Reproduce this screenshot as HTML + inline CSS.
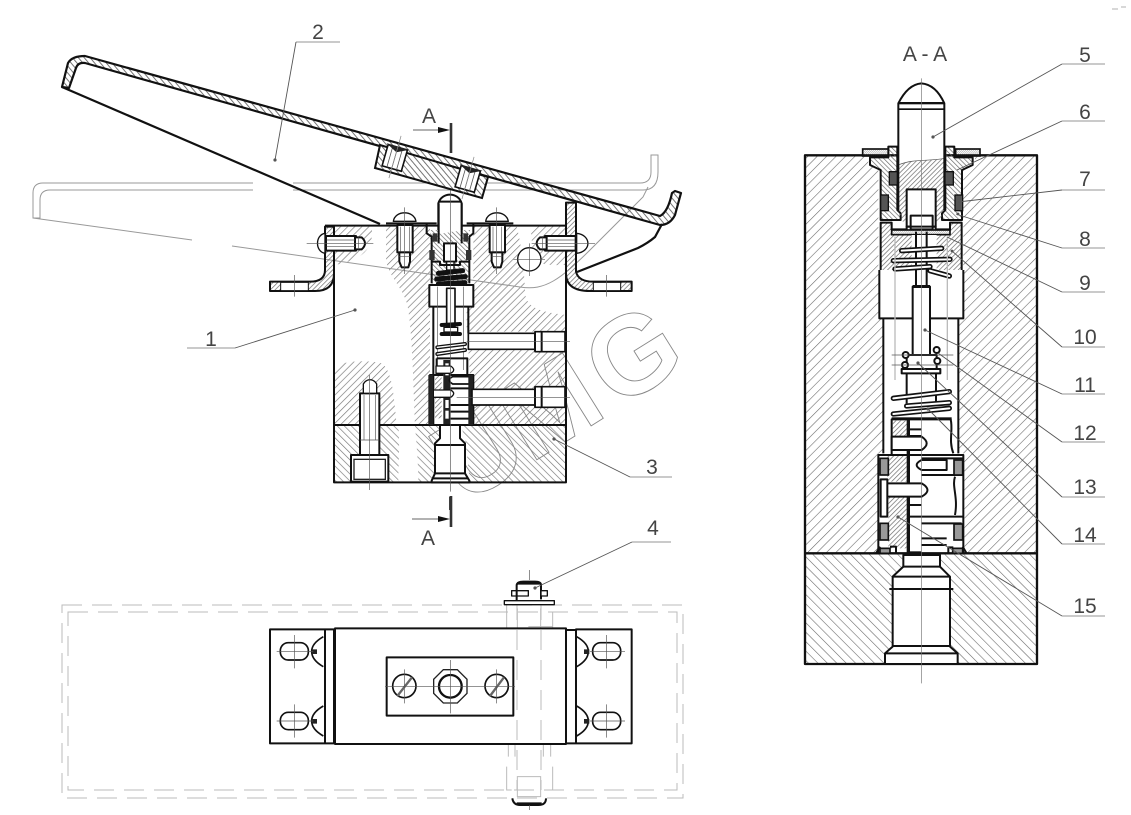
<!DOCTYPE html>
<html><head><meta charset="utf-8"><style>
html,body{margin:0;padding:0;background:#fff;width:1131px;height:815px;overflow:hidden}
svg{display:block}
text{font-family:"Liberation Sans",sans-serif;fill:#444;text-anchor:middle}
.k{fill:none;stroke:#111;stroke-width:6;stroke-linejoin:round}
.w{fill:#fff;stroke:#111;stroke-width:6;stroke-linejoin:round}
.m{fill:none;stroke:#222;stroke-width:4}
.c{fill:none;stroke:#555;stroke-width:2}
.g{fill:none;stroke:#aaa;stroke-width:1}
.l{fill:none;stroke:#555;stroke-width:.9}
.u{fill:none;stroke:#aaa;stroke-width:1.2}
.d{fill:#555}
.a{fill:url(#h1)}.b{fill:url(#h2)}.e{fill:url(#h3)}.f{fill:url(#h4)}.n{fill:url(#h5)}
</style></head><body>
<svg width="1131" height="815" viewBox="0 0 1131 815" xmlns="http://www.w3.org/2000/svg">
<defs>
<pattern id="h1" width="15" height="15" patternUnits="userSpaceOnUse" patternTransform="rotate(45)"><rect width="2" height="15" fill="#777"/></pattern>
<pattern id="h2" width="15" height="15" patternUnits="userSpaceOnUse" patternTransform="rotate(-45)"><rect width="2" height="15" fill="#777"/></pattern>
<pattern id="h3" width="4.5" height="4.5" patternUnits="userSpaceOnUse" patternTransform="rotate(-40)"><rect width=".9" height="4.5" fill="#666"/></pattern>
<pattern id="h4" width="20" height="20" patternUnits="userSpaceOnUse" patternTransform="rotate(45)"><rect width="1.7" height="20" fill="#666"/></pattern>
<pattern id="h5" width="20" height="20" patternUnits="userSpaceOnUse" patternTransform="rotate(-45)"><rect width="1.7" height="20" fill="#666"/></pattern>
<pattern id="h6" width="10" height="10" patternUnits="userSpaceOnUse" patternTransform="rotate(-45)"><rect width="2" height="10" fill="#666"/></pattern>
<pattern id="h7" width="10" height="10" patternUnits="userSpaceOnUse" patternTransform="rotate(45)"><rect width="2" height="10" fill="#666"/></pattern>
</defs>
<rect width="1131" height="815" fill="#fff"/>

<!-- LEFT VIEW hatch -->
<g transform="translate(260,130) scale(.33333)">
<path class="a" d="M225,290H335C342,345 320,388 225,405Z"/>
<path class="a" d="M378,290H510V885H465C460,800 460,650 445,540C435,470 378,440 378,380Z"/>
<path class="a" d="M630,290H770C780,330 790,380 795,480C795,530 830,545 918,555V605H620V530H640V300Z"/>
<path class="a" d="M625,660H918V775H632Z"/>
<path class="a" d="M640,825H918V885H640Z"/>
<path class="a" d="M812,295C830,285 870,288 918,290V405C880,405 835,410 820,380Z"/>
<path class="a" d="M225,715C240,690 330,690 365,700C395,720 400,780 410,885H225Z"/>
<path class="b" d="M225,885H415C420,950 415,1000 415,1057H225Z"/>
<path class="b" d="M465,885H540V915L520,1057H475C475,1000 470,950 465,885Z"/>
<path class="b" d="M600,885H918V1057H630L615,920Z"/>
</g>

<!-- watermark -->
<g fill="none" style="font-weight:bold">
<text transform="translate(653,387) rotate(-32)" font-size="112" style="fill:none;stroke:#888;stroke-width:.9;font-weight:bold">G</text>
<text transform="translate(570,439) rotate(-32)" font-size="112" style="fill:none;stroke:#888;stroke-width:.9;font-weight:bold">M</text>
<text transform="translate(498,484) rotate(-32)" font-size="112" style="fill:none;stroke:#888;stroke-width:.9;font-weight:bold">U</text>
</g>

<!-- ghost pedal -->
<g fill="none" stroke="#999" stroke-width="1">
<path d="M253,183H43Q33,183 33,193V218H40V200Q40,190 50,190H253"/>
<path d="M293,183H640Q651,183 651,172V155H658V172Q658,190 643,190H293"/>
<path d="M33,218L192,240M232,246L520,287C545,291 560,280 593,247L643,197L648,187"/>
</g>

<!-- LEFT VIEW lines -->
<g transform="translate(260,130) scale(.33333)">
<!-- brackets -->
<path style="fill:url(#h7)" d="M30,455H150Q195,455 195,420V290H222V430Q222,483 165,483H30Z"/>
<path class="k" d="M30,455H150Q195,455 195,420V290H222V430Q222,483 165,483H30Z"/>
<rect class="w" x="62" y="457" width="83" height="25" style="stroke-width:3"/>
<path style="fill:url(#h7)" d="M918,218H948V425Q955,455 1000,455H1115V483H990Q918,483 918,430Z"/>
<path class="k" d="M918,218H948V425Q955,455 1000,455H1115V483H990Q918,483 918,430Z"/>
<rect class="w" x="1000" y="457" width="82" height="25" style="stroke-width:3"/>
<!-- body -->
<path class="k" d="M222,290V1057H918V290M195,287H918M222,885H918"/>
<path class="k" d="M378,280H530M620,280H760"/>
<!-- side screws -->
<path class="w" d="M195,310C165,315 165,365 195,370Z" style="stroke-width:4"/>
<rect class="w" x="198" y="318" width="90" height="44"/>
<path class="w" d="M285,322H305Q325,340 305,358H285Z"/>
<path class="c" d="M200,330H285M200,350H285M295,322V358M140,340H340"/>
<path class="w" d="M950,310C995,315 995,365 950,370Z" style="stroke-width:4"/>
<rect class="w" x="855" y="318" width="92" height="44"/>
<path class="w" d="M860,322H840Q820,340 840,358H860Z"/>
<path class="c" d="M860,330H945M860,350H945M848,322V358M815,340H1005"/>
<!-- vertical screws -->
<g><path class="w" d="M400,274C405,240 462,240 468,274Z" style="stroke-width:4"/>
<rect class="w" x="412" y="285" width="46" height="82"/>
<path class="w" d="M418,367H450V395L445,412H425L418,395Z"/>
<path class="c" d="M422,290V365M448,290V365M418,380H450M433,232V432"/></g>
<g transform="translate(277,0)"><path class="w" d="M400,274C405,240 462,240 468,274Z" style="stroke-width:4"/>
<rect class="w" x="412" y="285" width="46" height="82"/>
<path class="w" d="M418,367H450V395L445,412H425L418,395Z"/>
<path class="c" d="M422,290V365M448,290V365M418,380H450M433,232V432"/></g>
<!-- hole -->
<circle class="w" cx="808" cy="388" r="35" style="stroke-width:4"/><path class="c" d="M808,340V438M760,388H855"/>
<!-- centre housing -->
<path style="fill:url(#h6)" d="M510,300H630V460H515Z"/>
<path class="k" d="M500,282V310L515,320V460M640,282V310L628,320V460"/>
<path class="w" d="M535,300V220C545,185 595,185 605,220V300"/>
<path style="fill:#fff" d="M538,220H602V305C580,300 560,312 538,310Z"/>
<path class="k" d="M537,215H604M536,220V340M605,220V340"/>
<rect class="w" x="552" y="340" width="36" height="55"/>
<rect class="w" x="560" y="395" width="22" height="25" style="stroke-width:4"/>
<rect x="508" y="360" width="16" height="30" fill="#333"/><rect x="618" y="360" width="16" height="30" fill="#333"/>
<rect x="518" y="310" width="14" height="25" fill="#333"/><rect x="610" y="310" width="14" height="25" fill="#333"/>
<path class="k" d="M515,395H540V405H600V395H630"/>
<!-- upper dark spring -->
<g stroke="#111" stroke-width="15" stroke-linecap="round" fill="none"><path d="M535,430L608,422M530,447L616,440M535,462L615,458"/></g>
<path class="w" d="M508,465H640V530H508Z"/>
<path class="k" d="M520,530V885M625,530V610"/>
<path class="w" d="M560,475H585V590H560Z" style="stroke-width:5"/>
<path class="c" d="M532,470V720M610,470V720" stroke="#999"/>
<!-- lower dark spring -->
<g stroke="#111" stroke-width="12" stroke-linecap="round" fill="none"><path d="M545,585L600,582M545,612L600,612"/></g>
<path d="M552,592H593V606H552Z" fill="#fff" stroke="#111" stroke-width="4"/>
<!-- coil -->
<g stroke="#111" stroke-width="12" stroke-linecap="round" fill="none"><path d="M532,652L615,642M532,672L615,660"/></g>
<g stroke="#fff" stroke-width="4" stroke-linecap="round" fill="none"><path d="M532,652L615,642M532,672L615,660"/></g>
<path class="k" d="M530,685H622V735M530,685V735"/>
<!-- lower mech -->
<path style="fill:url(#h7)" d="M525,735H545V865H525Z"/>
<path class="k" d="M510,885V735H550M640,885V735H570M510,885H640"/>
<path fill="#222" d="M550,690H570V885H550Z"/>
<g fill="#fff"><rect x="556" y="700" width="10" height="14"/><rect x="556" y="722" width="10" height="14"/><rect x="556" y="780" width="10" height="14"/><rect x="556" y="810" width="10" height="24"/><rect x="556" y="842" width="10" height="24"/></g>
<path class="w" d="M528,708H572Q590,720 572,730H528Z" style="stroke-width:4"/>
<path class="w" d="M520,780H572Q590,790 572,802H520Z" style="stroke-width:4"/>
<path class="w" d="M632,740H578Q558,750 578,762H632Z" style="stroke-width:5"/>
<path class="k" d="M570,825H636M570,845H636M570,866H636M570,775H636"/>
<path fill="#222" d="M505,735h14v150h-14zM625,735h14v150h-14z"/>
<!-- cross holes -->
<path class="w" d="M915,605H825V610H625V658H825V665H915Z" style="stroke-width:5"/>
<path class="k" d="M825,607V663M845,607V663"/><path class="c" d="M620,635H930"/>
<path class="w" d="M915,770H825V778H636V825H825V832H915Z" style="stroke-width:5"/>
<path class="k" d="M825,772V830M845,772V830"/><path class="c" d="M590,802H930"/>
<!-- bottom-left bolt -->
<rect class="w" x="300" y="790" width="58" height="185"/>
<path class="w" d="M310,790V762C320,745 340,745 350,762V790Z" style="stroke-width:4"/>
<path class="c" d="M312,795V930M346,795V930M300,930H358"/>
<rect class="w" x="273" y="975" width="112" height="80"/><rect class="m" x="282" y="988" width="94" height="60"/>
<path class="c" d="M328,735V1080"/>
<!-- bottom fitting -->
<path class="w" d="M540,885V925L525,940V1030L515,1052V1057H628V1052L615,1030V940L600,925V885Z"/>
<path class="k" d="M525,945H615M525,1030H615M518,1045H625"/>
<path class="c" d="M571,140V1085"/>
<rect x="567" y="1100" width="8" height="40" fill="#444"/>
<path class="c" d="M103,435V500M1040,435V500"/>
</g>

<!-- PEDAL -->
<path d="M62,87L68,63Q72,56 85,56L660,216Q668,212 672,193L675,191L681,193L675,215Q670,225 660,225L85,63Q78,62 76,68L69,88Z" fill="url(#h3)" stroke="#111" stroke-width="2.2" stroke-linejoin="round"/>
<path d="M62,87L380,224" stroke="#111" stroke-width="2.2" fill="none"/>
<path d="M662,224L655,237Q648,243 638,248L577,272" stroke="#111" stroke-width="2.2" fill="none"/>
<path d="M380,145L375,168L482,198L488,177Z" fill="#fff"/>
<path d="M380,145L375,168L482,198L488,177Z" fill="url(#h3)" stroke="#111" stroke-width="2"/>
<g transform="translate(395,157) rotate(16)"><rect x="-10" y="-10" width="20" height="22" fill="#fff" stroke="#111" stroke-width="1.6"/><path d="M-5,-10V12M0,-10V12M5,-10V12" stroke="#555" stroke-width=".8"/><path d="M-12,-11L0,-5L12,-11Z" fill="#222"/><path d="M0,-22V22" stroke="#888" stroke-width=".7"/></g>
<g transform="translate(468,178) rotate(16)"><rect x="-10" y="-10" width="20" height="22" fill="#fff" stroke="#111" stroke-width="1.6"/><path d="M-5,-10V12M0,-10V12M5,-10V12" stroke="#555" stroke-width=".8"/><path d="M-12,-11L0,-5L12,-11Z" fill="#222"/><path d="M0,-22V22" stroke="#888" stroke-width=".7"/></g>

<!-- section marks -->
<path d="M451,123V153M451,496V527" stroke="#333" stroke-width="2.6" fill="none"/>
<path d="M413,130H440M412,519H440" stroke="#666" stroke-width="1" fill="none"/>
<path d="M438,127L450,130L438,133ZM438,516L450,519L438,522Z" fill="#111"/>
<text x="429" y="123" font-size="21">A</text><text x="428" y="545" font-size="21">A</text>

<!-- BOTTOM VIEW -->
<g fill="none" stroke="#bbb" stroke-width="1" stroke-dasharray="20 10">
<rect x="62" y="605" width="621" height="193"/><rect x="68" y="612" width="609" height="178"/>
<path d="M517,600V790M541,600V790"/>
</g>
<g transform="translate(260,570) scale(.33333)">
<path d="M740,105V175M878,127V175M805,170H878M772,115V175M842,115V175M740,590V660H755M878,590V660H860M772,620H842V680H772ZM745,525V560M765,525V560M850,525V560M872,525V560" fill="none" stroke="#bbb" stroke-width="3"/>
<path class="k" d="M30,178H195V520H30ZM195,178H222V520H195ZM225,175H918V522H225ZM918,180H948V520H918ZM948,178H1115V520H948Z"/>
<rect class="k" x="380" y="262" width="380" height="175"/>
<rect class="k" x="61" y="218" width="84" height="52" rx="24" style="stroke-width:5"/><rect class="k" x="61" y="427" width="84" height="52" rx="24" style="stroke-width:5"/>
<rect class="k" x="998" y="218" width="84" height="52" rx="24" style="stroke-width:5"/><rect class="k" x="998" y="427" width="84" height="52" rx="24" style="stroke-width:5"/>
<path class="k" style="stroke-width:5" d="M190,200Q155,220 155,244Q155,270 190,290M190,408Q155,428 155,453Q155,478 190,498M950,200Q985,220 985,244Q985,270 950,290M950,408Q985,428 985,453Q985,478 950,498"/>
<path d="M155,238h16v14h-16zM155,447h16v14h-16zM972,238h16v14h-16zM972,447h16v14h-16z" fill="#222"/>
<path class="c" d="M50,244H160M103,195V295M50,453H160M103,403V503M990,244H1095M1040,195V295M990,453H1095M1040,403V503"/>
<circle class="k" cx="433" cy="348" r="35" style="stroke-width:5"/><circle class="k" cx="710" cy="348" r="35" style="stroke-width:5"/>
<path d="M412,378L456,322M690,378L732,322" stroke="#666" stroke-width="7"/>
<path class="m" d="M550,299H592L621,328V370L592,399H550L521,370V328Z"/>
<circle cx="571" cy="349" r="34" fill="none" stroke="#111" stroke-width="7"/>
<path class="c" d="M571,270V430M375,349H765M433,298V400M710,298V400"/>
<path class="k" d="M770,60V45Q772,35 790,35H825Q843,35 843,45V88"/><path d="M772,36H842V44H772Z" fill="#111"/>
<rect class="w" x="733" y="92" width="150" height="12" style="stroke-width:4"/>
<rect class="w" x="755" y="62" width="50" height="16" style="stroke-width:4"/><rect class="w" x="843" y="62" width="19" height="16" style="stroke-width:4"/>
<path class="k" d="M770,60V90"/>
<path class="k" d="M757,685Q760,705 780,705H835Q858,705 858,685"/><path d="M770,697H845V705H770Z" fill="#111"/>
<path class="c" d="M808,0V30M808,705V720" stroke="#888"/>
</g>

<!-- RIGHT VIEW -->
<g transform="translate(790,70) scale(.33333)">
<rect class="f" x="45" y="258" width="696" height="1192"/>
<rect class="n" x="45" y="1452" width="696" height="330"/>
<path d="M235,258V285L265,300V600H268V745H280V1150H265V1450H523V1150H505V745H520V600H520V300L555,285V258Z" fill="#fff"/>
<path class="k" d="M741,256H45V1782H741ZM45,1450H741" style="stroke-width:7"/>
<path class="k" d="M280,745V1150M505,745V1150M268,600V745H520V600"/>
<!-- gland -->
<path style="fill:url(#h6)" d="M240,262H295V230H322V420L332,430V450H272V300L240,285Z"/>
<path class="k" d="M240,262H295V230H322V420L332,430V450H272V300L240,285Z"/>
<path style="fill:url(#h6)" d="M548,262H493V230H466V420L456,430V450H516V300L548,285Z"/>
<path class="k" d="M548,262H493V230H466V420L456,430V450H516V300L548,285Z"/>
<rect x="218" y="237" width="77" height="21" fill="url(#h3)" stroke="#111" stroke-width="5"/>
<rect x="497" y="237" width="73" height="21" fill="url(#h3)" stroke="#111" stroke-width="5"/>
<!-- pin -->
<path d="M325,100V420H463V100Z" fill="#fff"/>
<path style="fill:url(#h7)" d="M325,285C370,265 420,275 463,265V420L450,455H338L325,420Z"/>
<path class="c" d="M325,285C370,265 420,275 463,265"/>
<path class="w" d="M325,420V100C345,60 370,42 394,40C420,42 445,60 463,100V420" style="fill:none"/>
<rect x="327" y="96" width="134" height="7" fill="#111"/><rect x="325" y="115" width="138" height="5" fill="#111"/>
<path class="w" d="M350,470V358H437V470Z"/>
<rect class="w" x="362" y="437" width="66" height="41"/>
<g fill="#555" stroke="#111" stroke-width="4"><rect x="298" y="305" width="24" height="40"/><rect x="465" y="305" width="25" height="40"/><rect x="272" y="375" width="23" height="47"/><rect x="495" y="375" width="23" height="47"/></g>
<!-- lower body -->
<path style="fill:url(#h7)" d="M272,458H305V495H480V458H515V600H272Z"/>
<path class="k" d="M272,600V458H305V478H350V470H437V478H480V458H515V600"/>
<rect x="305" y="480" width="175" height="14" fill="url(#h3)" stroke="#111" stroke-width="5"/>
<path d="M365,495H440V650H365Z" fill="#fff"/>
<path class="k" d="M378,485V645M410,485V645"/>
<g stroke="#111" stroke-width="16" stroke-linecap="round" fill="none"><path d="M335,542L455,535M310,572L480,568M315,597L420,590M420,602L478,618"/></g>
<g stroke="#fff" stroke-width="6" stroke-linecap="round" fill="none"><path d="M335,542L455,535M310,572L480,568M315,597L420,590M420,602L478,618"/></g>
<path class="g" style="stroke-width:4;stroke:#bbb" d="M315,500V930M472,500V930"/>
<path class="w" d="M368,855V650H420V855"/><path d="M368,645H420V654H368Z" fill="#111"/>
<!-- retainer -->
<rect class="w" x="350" y="855" width="90" height="42"/>
<g fill="#fff" stroke="#111" stroke-width="6"><circle cx="347" cy="855" r="9"/><circle cx="440" cy="840" r="9"/><circle cx="345" cy="885" r="9"/><circle cx="442" cy="873" r="9"/></g>
<rect class="w" x="335" y="897" width="116" height="13"/>
<path class="k" d="M350,910V1000M438,910V1000"/>
<path class="c" d="M305,855H490M305,885H490"/>
<g transform="translate(0,930)">
<g stroke="#111" stroke-width="16" stroke-linecap="round" fill="none"><path d="M310,55L478,35M310,102L478,85M350,78L478,68"/></g>
<g stroke="#fff" stroke-width="6" stroke-linecap="round" fill="none"><path d="M310,55L478,35M310,102L478,85M350,78L478,68"/></g>
<path class="k" d="M305,225V118H482C490,150 475,180 490,220"/><rect x="305" y="112" width="180" height="8" fill="#111"/>
<path style="fill:url(#h7)" d="M308,122H352V170H308ZM292,225H350V305H292ZM295,350H350V505H295Z"/>
<path d="M350,115H360V520H350Z" fill="#111"/>
<path class="k" d="M358,148H395M358,168H395M358,375H395M358,410H520M395,285H520M395,235H520"/>
<path class="w" d="M305,170H395Q425,190 395,210H305Z"/>
<path class="w" d="M470,240H395Q365,255 395,270H470Z"/>
<path class="w" d="M275,310H395Q430,330 395,350H275Z"/>
<path class="k" d="M495,290C485,320 505,350 495,405M395,475H470M395,495H470M395,430H515"/>
<path class="k" d="M265,520V225H305M520,520V225H480"/><path class="k" d="M270,225H520"/>
<rect class="w" x="272" y="298" width="20" height="112"/>
<g fill="#999" stroke="#111" stroke-width="5"><rect x="270" y="235" width="25" height="50"/><rect x="270" y="430" width="25" height="50"/><rect x="492" y="240" width="26" height="45"/><rect x="492" y="432" width="26" height="48"/><rect x="270" y="505" width="30" height="15"/><rect x="488" y="505" width="30" height="15"/></g>
<path class="k" d="M300,500H318V520M475,520V502H490M258,520L270,500M530,520L518,500"/>
<path d="M352,514H395V522H352Z" fill="#111"/>
<!-- fitting -->
<path class="w" d="M340,525V560L308,590V800L285,820V852H503V820L480,800V590L450,560V525Z"/>
<path class="k" d="M340,560H450M308,590H480M298,627H490M308,798H480M285,820H503"/>
</g>
<path d="M394,25V1840" stroke="#777" stroke-width="2" fill="none"/>
</g>

<!-- leaders -->
<g>
<path class="u" d="M187,348H235M296,42H340M630,477H672M632,542H671M1062,64H1105M1062,121H1105M1062,190H1105M1062,248H1105M1062,292H1105M1062,347H1105M1062,394H1105M1062,442H1105M1062,497H1105M1062,544H1105M1062,616H1105"/>
<path class="l" d="M235,348L355,310M296,42L275,160M630,477L554,439M632,542L535,588M1062,64L933,137M1062,121L957,170M1062,190L958,202M1062,248L956,214M1062,292L947,237M1062,347L952,251M1062,394L925,330M1062,442L938,353M1062,497L918,363M1062,544L928,409M1062,616L898,517"/>
<g class="d"><circle cx="355" cy="310" r="1.6"/><circle cx="275" cy="160" r="1.6"/><circle cx="554" cy="439" r="1.6"/><circle cx="535" cy="588" r="1.6"/><circle cx="933" cy="137" r="1.6"/><circle cx="958" cy="214" r="1.4"/><circle cx="952" cy="251" r="1.4"/><circle cx="925" cy="330" r="1.6"/><circle cx="918" cy="363" r="1.6"/><circle cx="928" cy="409" r="1.6"/><circle cx="898" cy="517" r="1.6"/></g>
</g>
<g font-size="21">
<text x="211" y="346">1</text><text x="318" y="39">2</text><text x="652" y="474">3</text><text x="653" y="535">4</text>
<text x="1085" y="62">5</text><text x="1085" y="119">6</text><text x="1085" y="186">7</text><text x="1085" y="246">8</text><text x="1085" y="290">9</text><text x="1085" y="344">10</text><text x="1085" y="392">11</text><text x="1085" y="440">12</text><text x="1085" y="494">13</text><text x="1085" y="542">14</text><text x="1085" y="613">15</text>
<text x="925" y="61">A - A</text>
</g>
<path d="M1112,9h6M1121,7h5" stroke="#ccc" stroke-width="1.5"/>
</svg>
</body></html>
